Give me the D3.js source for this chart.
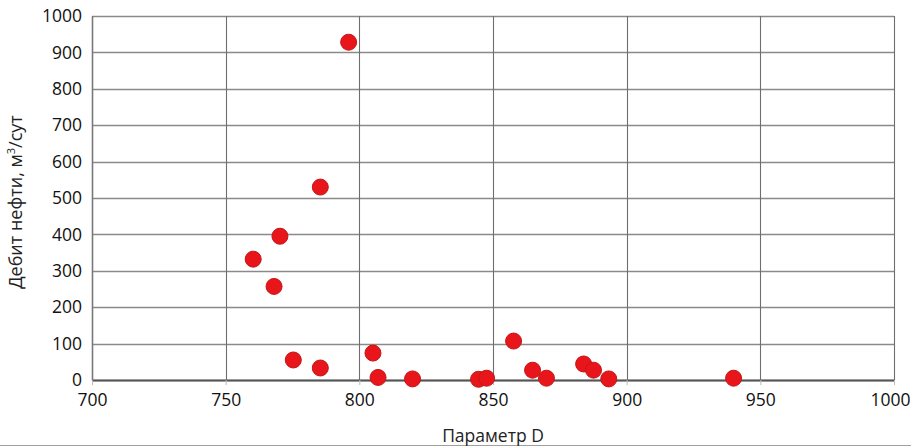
<!DOCTYPE html>
<html>
<head>
<meta charset="utf-8">
<script src="https://cdn.jsdelivr.net/npm/d3@7"></script>
<style>
  body { margin: 0; background: #fff; }
  svg { display: block; }
</style>
</head>
<body>
<div id="chart"></div>
<script>
/* Data */
var paramD = [796, 785.4, 770.3, 760.3, 768.1, 775.3, 785.4, 805.1, 807, 819.9, 844.6, 847.6, 857.7, 864.8, 870, 883.9, 887.6, 893.3, 940];
var oilRate = [928, 530, 395, 332, 257, 55, 33, 74, 7, 3, 2, 5, 107, 27, 5, 44, 27, 3, 5];
var xTicks = [700, 750, 800, 850, 900, 950, 1000];
var yTicks = [0, 100, 200, 300, 400, 500, 600, 700, 800, 900, 1000];

var data = paramD.map(function(d, i) { return { x: d, y: oilRate[i] }; });

var W = 911, H = 446,
    margin = { top: 16, right: 17, bottom: 66, left: 92 },
    width = W - margin.left - margin.right,
    height = H - margin.top - margin.bottom,
    fontFamily = "'Open Sans', sans-serif";

var svg = d3.select("#chart").append("svg")
    .attr("width", W)
    .attr("height", H);

/* bottom border line of the figure */
svg.append("line")
    .attr("x1", 0).attr("x2", W)
    .attr("y1", 445.5).attr("y2", 445.5)
    .attr("stroke", "#a0a0a0");

var chart = svg.append("g")
    .attr("transform", "translate(" + margin.left + "," + margin.top + ")");

var x = d3.scaleLinear().domain([700, 1000]).range([0, width]);
var y = d3.scaleLinear().domain([0, 1000]).range([height, 0]);

/* Gridlines */
chart.append("g")
    .selectAll("line")
    .data(yTicks)
    .enter().append("line")
    .attr("x1", 0).attr("x2", width)
    .attr("y1", function(d) { return Math.round(y(d)) + 0.5; })
    .attr("y2", function(d) { return Math.round(y(d)) + 0.5; })
    .attr("stroke", "#8a8a8a")
    .attr("stroke-width", 1.3);

chart.append("g")
    .selectAll("line")
    .data(xTicks)
    .enter().append("line")
    .attr("y1", 0).attr("y2", height)
    .attr("x1", function(d) { return Math.round(x(d)) + 0.5; })
    .attr("x2", function(d) { return Math.round(x(d)) + 0.5; })
    .attr("stroke", "#6e6e6e")
    .attr("stroke-width", 1.1);

/* Axes */
var xAxis = d3.axisBottom(x).tickValues(xTicks).tickFormat(d3.format("d"))
    .tickSize(5).tickSizeOuter(0).tickPadding(9);
var yAxis = d3.axisLeft(y).tickValues(yTicks).tickFormat(d3.format("d"))
    .tickSize(0).tickPadding(10);

var gx = chart.append("g")
    .attr("transform", "translate(0," + height + ")")
    .call(xAxis);
gx.select(".domain").attr("stroke", "#555").attr("stroke-width", 2);
gx.selectAll(".tick line").attr("stroke", "#bbb");
gx.selectAll("text")
    .attr("font-family", fontFamily)
    .attr("font-size", 17.5)
    .attr("fill", "#111");
/* last label sits at the right edge, keep it inside */
gx.selectAll(".tick text").filter(function(d) { return d === 1000; })
    .attr("dx", -4);

var gy = chart.append("g").call(yAxis);
gy.select(".domain").attr("stroke", "#777").attr("stroke-width", 1.5);
gy.selectAll("text")
    .attr("font-family", fontFamily)
    .attr("font-size", 17.5)
    .attr("fill", "#111");

/* Points */
chart.append("g")
    .selectAll("circle")
    .data(data)
    .enter().append("circle")
    .attr("cx", function(d) { return x(d.x); })
    .attr("cy", function(d) { return y(d.y); })
    .attr("r", 8)
    .attr("fill", "#e8161b")
    .attr("stroke", "#c41518")
    .attr("stroke-width", 1);

/* Axis titles */
chart.append("text")
    .attr("x", width / 2)
    .attr("y", height + 62)
    .attr("text-anchor", "middle")
    .attr("font-family", fontFamily)
    .attr("font-size", 17.5)
    .attr("fill", "#222")
    .text("Параметр D");

var yt = chart.append("text")
    .attr("transform", "translate(" + (-70) + "," + (height / 2 + 4) + ")rotate(-90)")
    .attr("text-anchor", "middle")
    .attr("font-family", fontFamily)
    .attr("font-size", 18)
    .attr("fill", "#222");
yt.append("tspan").text("Дебит нефти, м");
yt.append("tspan").attr("dy", -7).attr("font-size", 11).text("3");
yt.append("tspan").attr("dy", 7).text("/сут");
</script>
</body>
</html>
